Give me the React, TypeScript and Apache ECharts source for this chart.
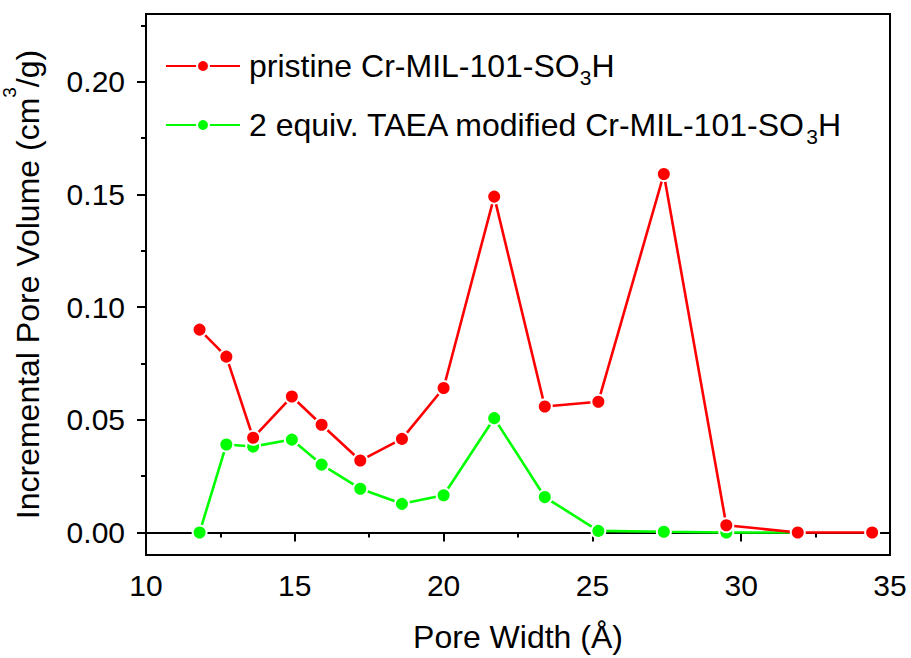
import React, { useEffect, useRef } from "react";
import * as echarts from "echarts";

const poreWidth = [11.8, 12.7, 13.6, 14.9, 15.9, 17.2, 18.6, 20.0, 21.7, 23.4, 25.2, 27.4, 29.5, 31.9, 34.4];
const pristine = [0.09, 0.078, 0.042, 0.0603, 0.0478, 0.0319, 0.0415, 0.0641, 0.149, 0.0559, 0.058, 0.159, 0.0032, 0.0, 0.0];
const modified = [0.0, 0.039, 0.0381, 0.0412, 0.0301, 0.0194, 0.0127, 0.0165, 0.0507, 0.0157, 0.0007, 0.0003, 0.0, 0.0];
const seriesNames = ["pristine Cr-MIL-101-SO3H", "2 equiv. TAEA modified Cr-MIL-101-SO3H"];
const yMajor = [0, 0.05, 0.1, 0.15, 0.2];
const yMinor = [0.025, 0.075, 0.125, 0.175, 0.225];

const FONT = "'Liberation Sans', Arial, sans-serif";

export default function App() {
  const ref = useRef<HTMLDivElement>(null);
  useEffect(() => {
    if (!ref.current) return;
    const chart = echarts.init(ref.current, null, { renderer: "svg" });
    const pair = (ys: number[]) => ys.map((y, i) => [poreWidth[i], y]);
    const seriesBase = {
      type: "line",
      symbol: "circle",
      symbolSize: 14,
    };
    chart.setOption({
      animation: false,
      backgroundColor: "#ffffff",
      textStyle: { fontFamily: FONT, color: "#000" },
      grid: {
        left: 146,
        right: 21,
        top: 14,
        bottom: 103,
        containLabel: false,
        outerBoundsMode: "none",
        show: true,
        borderColor: "#000",
        borderWidth: 2,
        backgroundColor: "transparent",
      },
      legend: {
        orient: "vertical",
        left: 165,
        top: 50,
        padding: 0,
        itemGap: 21,
        itemWidth: 74,
        itemHeight: 15,
        data: seriesNames,
        formatter: (name: string) => {
          const parts = name.split("SO3H");
          return "{m|" + parts[0] + "SO}{s|3}{m|H}";
        },
        textStyle: {
          padding: [0, 0, 0, 4],
          rich: {
            m: { fontSize: 32, lineHeight: 44, fontFamily: FONT, color: "#000" },
            s: { fontSize: 21, lineHeight: 21, verticalAlign: "bottom", fontFamily: FONT, color: "#000" },
          },
        },
      },
      xAxis: {
        type: "value",
        min: 10,
        max: 35,
        interval: 5,
        name: "Pore Width (Å)",
        nameLocation: "middle",
        nameGap: 66,
        nameTextStyle: { fontSize: 32, fontFamily: FONT, color: "#000" },
        axisLine: { show: true, lineStyle: { color: "#000", width: 2 } },
        axisTick: { show: true, inside: false, length: 9, lineStyle: { color: "#000", width: 2 } },
        minorTick: { show: true, splitNumber: 2, length: 5, lineStyle: { color: "#000", width: 2 } },
        axisLabel: { fontSize: 30, margin: 15, color: "#000", fontFamily: FONT },
        splitLine: { show: false },
        minorSplitLine: { show: false },
      },
      yAxis: [
        {
          type: "value",
          min: -0.01,
          max: 0.23,
          name: "Incremental Pore Volume (cm{sup|3}/g)",
          nameLocation: "middle",
          nameRotate: 90,
          nameGap: 82,
          nameTextStyle: {
            fontSize: 32,
            lineHeight: 56,
            fontFamily: FONT,
            color: "#000",
            rich: {
              sup: { fontSize: 19, lineHeight: 20, verticalAlign: "top", fontFamily: FONT, color: "#000" },
            },
          },
          axisLine: { show: true, lineStyle: { color: "#000", width: 2 } },
          axisTick: { show: true, inside: false, length: 9, customValues: yMajor, lineStyle: { color: "#000", width: 2 } },
          axisLabel: {
            fontSize: 30,
            margin: 21,
            color: "#000",
            fontFamily: FONT,
            customValues: yMajor,
            formatter: (v: number) => v.toFixed(2),
          },
          splitLine: { show: false },
        },
        {
          type: "value",
          min: -0.01,
          max: 0.23,
          position: "left",
          axisLine: { show: false },
          axisTick: { show: true, inside: false, length: 5, customValues: yMinor, lineStyle: { color: "#000", width: 2 } },
          axisLabel: { show: false },
          splitLine: { show: false },
        },
      ],
      series: [
        {
          ...seriesBase,
          name: seriesNames[1],
          data: pair(modified),
          color: "#00ff00",
          lineStyle: { width: 2.6, color: "#00ff00" },
          itemStyle: { color: "#00ff00", borderColor: "#ffffff", borderWidth: 2 },
          z: 2,
        },
        {
          ...seriesBase,
          name: seriesNames[0],
          data: pair(pristine),
          color: "#ff0000",
          lineStyle: { width: 2.6, color: "#ff0000" },
          itemStyle: { color: "#ff0000", borderColor: "#ffffff", borderWidth: 2 },
          z: 3,
        },
      ],
    });
    return () => chart.dispose();
  }, []);
  return (
    <div
      ref={ref}
      style={{ position: "fixed", left: 0, top: 0, width: 911, height: 658, background: "#fff" }}
    />
  );
}
